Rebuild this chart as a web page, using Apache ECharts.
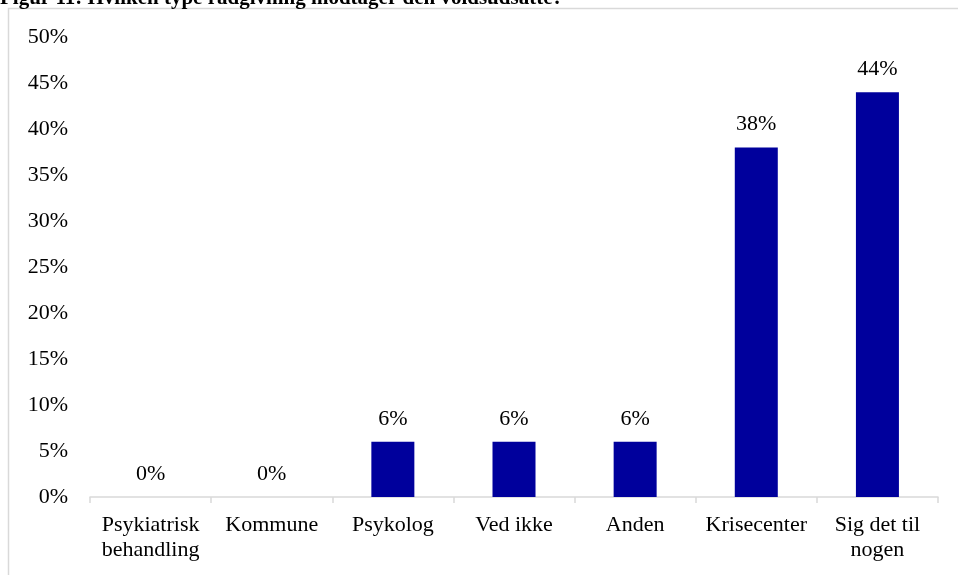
<!DOCTYPE html>
<html>
<head>
<meta charset="utf-8">
<script src="https://cdn.jsdelivr.net/npm/echarts@6/dist/echarts.min.js"></script>
<style>
  html, body { margin: 0; padding: 0; background: #ffffff; }
  #main { width: 958px; height: 575px; }
</style>
</head>
<body>
<div id="main"></div>
<script>
// data
var titleText = 'Figur 11: Hvilken type rådgivning modtager den voldsudsatte?';
var categories = ['Psykiatrisk\nbehandling', 'Kommune', 'Psykolog', 'Ved ikke', 'Anden', 'Krisecenter', 'Sig det til\nnogen'];
var values = [0, 0, 6, 6, 6, 38, 44];
var yTicks = [0, 5, 10, 15, 20, 25, 30, 35, 40, 45, 50];

var serif = '"Liberation Serif", "Times New Roman", serif';

var chart = echarts.init(document.getElementById('main'), null, { renderer: 'canvas' });

var option = {
  backgroundColor: '#ffffff',
  animation: false,
  graphic: [
    {
      type: 'text',
      left: 0,
      top: -12,
      style: {
        text: titleText,
        font: 'bold 21px ' + serif,
        fill: '#000000'
      }
    },
    {
      type: 'rect',
      shape: { x: 8.5, y: 8.5, width: 1000, height: 1000 },
      style: { fill: '#ffffff', stroke: '#d9d9d9', lineWidth: 1.5 },
      silent: true,
      z: -1
    }
  ],
  grid: {
    left: 90,
    right: 20,
    top: 37,
    bottom: 78,
    containLabel: false
  },
  xAxis: {
    type: 'category',
    data: categories,
    boundaryGap: true,
    axisLine: { show: true, lineStyle: { color: '#d9d9d9', width: 1.5 } },
    axisTick: { show: true, alignWithLabel: false, length: 6, lineStyle: { color: '#d9d9d9', width: 1.5 } },
    axisLabel: {
      interval: 0,
      margin: 16,
      color: '#000000',
      fontFamily: serif,
      fontSize: 22,
      lineHeight: 25
    },
    splitLine: { show: false }
  },
  yAxis: {
    type: 'value',
    min: yTicks[0],
    max: yTicks[yTicks.length - 1],
    interval: 5,
    axisLine: { show: false },
    axisTick: { show: false },
    splitLine: { show: false },
    axisLabel: {
      margin: 22,
      color: '#000000',
      fontFamily: serif,
      fontSize: 22,
      formatter: function (v) { return v + '%'; }
    }
  },
  series: [{
    type: 'bar',
    data: values,
    barWidth: 43,
    itemStyle: { color: '#00009c', borderWidth: 0 },
    label: {
      show: true,
      position: 'top',
      distance: 12,
      color: '#000000',
      fontFamily: serif,
      fontSize: 22,
      formatter: function (p) { return p.value + '%'; }
    }
  }]
};

chart.setOption(option);
</script>
</body>
</html>
